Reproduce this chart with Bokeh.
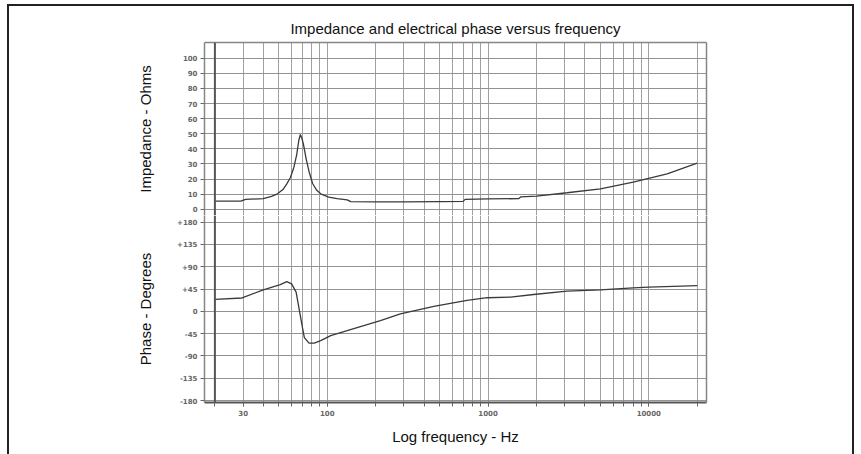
from bokeh.plotting import figure
from bokeh.layouts import column
from bokeh.models import Range1d, FixedTicker, Span, LinearAxis, LogAxis
from bokeh.embed import file_html
from bokeh.resources import INLINE

# ---- data ----
imp_freq = [20, 29, 31, 40, 45, 49, 53, 56, 59, 62, 64.5, 66.5, 68, 69.5, 71, 74, 77,
            81, 86, 91, 102, 115, 133, 140, 200, 300, 500, 700, 720, 1000, 1550, 1600,
            2000, 3100, 5000, 8000, 13000, 20000]
imp_ohms = [5.3, 5.3, 6.5, 7.0, 8.5, 10.2, 13.0, 16.8, 21.0, 27.8, 36.0, 45.5, 49.5, 47.0,
            43.3, 33.0, 25.0, 17.0, 12.5, 10.2, 8.0, 7.0, 6.2, 5.0, 4.8, 4.8, 5.0, 5.2, 6.5,
            6.8, 7.0, 8.2, 8.6, 10.9, 13.5, 17.9, 23.4, 30.5]

phase_freq = [20, 29.5, 40, 51, 56, 60, 64, 66.5, 70, 72, 77, 83, 91, 105, 133, 214, 285,
              460, 740, 990, 1380, 1920, 3100, 5000, 8000, 10000, 20000]
phase_deg = [24, 27, 43.5, 54, 60, 55.5, 38.7, 8.4, -32, -53, -64, -64, -59, -49, -39,
             -18.5, -5, 10, 22, 27.5, 28.6, 34, 40.7, 43.5, 47.5, 48.8, 52]

x_tick_values = [30, 100, 1000, 10000]
x_tick_labels = ["30", "100", "1000", "10000"]
grid_freqs = ([20, 30, 40, 50, 60, 70, 80, 90] +
              [m * 100 for m in range(1, 10)] +
              [m * 1000 for m in range(1, 10)] +
              [10000, 20000])

imp_ticks = [0, 10, 20, 30, 40, 50, 60, 70, 80, 90, 100]
phase_ticks = [-180, -135, -90, -45, 0, 45, 90, 135, 180]
phase_tick_labels = ["-180", "-135", "-90", "-45", "0", "+45", "+90", "+135", "+180"]

X_RANGE = (17.23, 22848)
IMP_RANGE = (-4.17, 110.4)
PHASE_RANGE = (-184.0, 193.5)

FONT = "Liberation Sans"
TICK_FONT = "DejaVu Sans"
TEXT_SIZE = "15px"
FRAME_COLOR = "#858585"
GRID_X = "#a0a0a0"
GRID_Y = "#939393"
CURVE = "#3a3a3a"

xr = Range1d(*X_RANGE)


def style_y_axis(ax, ticks, labels, label_text, label_standoff):
    ax.ticker = FixedTicker(ticks=ticks, minor_ticks=[])
    ax.major_label_overrides = {t: l for t, l in zip(ticks, labels)}
    ax.major_label_text_font = TICK_FONT
    ax.major_label_text_font_size = "7px"
    ax.major_label_text_font_style = "bold"
    ax.major_label_text_color = "#666666"
    ax.major_tick_out = 4
    ax.major_tick_in = 0
    ax.minor_tick_line_color = None
    ax.major_tick_line_color = "#666666"
    ax.axis_line_color = FRAME_COLOR
    ax.axis_line_width = 1.5
    ax.major_label_standoff = 3
    ax.axis_label = label_text
    ax.axis_label_text_font = FONT
    ax.axis_label_text_font_size = TEXT_SIZE
    ax.axis_label_text_font_style = "normal"
    ax.axis_label_text_color = "#111111"
    ax.axis_label_standoff = label_standoff


def edge_axis(cls):
    ax = cls(ticker=FixedTicker(ticks=[], minor_ticks=[]))
    ax.major_tick_out = 0
    ax.major_tick_in = 0
    ax.minor_tick_out = 0
    ax.minor_tick_in = 0
    ax.major_label_standoff = 0
    ax.major_label_text_font_size = "0px"
    ax.axis_line_color = FRAME_COLOR
    ax.axis_line_width = 1.5
    return ax


def base_fig(height, y_range, top, bottom, with_x_axis):
    f = figure(width=843, height=height, x_axis_type="log", x_range=xr, y_range=y_range,
               x_axis_location="below" if with_x_axis else None,
               output_backend="svg", toolbar_location=None,
               min_border_left=195, min_border_right=146,
               min_border_top=top, min_border_bottom=bottom)
    f.outline_line_color = None
    f.background_fill_color = "white"
    f.border_fill_color = "white"
    g = f.xgrid[0]
    g.ticker = FixedTicker(ticks=grid_freqs)
    g.grid_line_color = GRID_X
    g.grid_line_width = 1
    f.ygrid.grid_line_color = GRID_Y
    f.ygrid.grid_line_width = 1
    f.add_layout(edge_axis(LinearAxis), "right")
    f.add_layout(Span(location=grid_freqs[0], dimension="height",
                      line_color="#555555", line_width=2))
    return f


# ---- top panel: impedance ----
p_top = base_fig(209, Range1d(*IMP_RANGE), 36, 0, False)
p_top.title.text = "Impedance and electrical phase versus frequency"
p_top.title.align = "center"
p_top.title.text_font = FONT
p_top.title.text_font_size = TEXT_SIZE
p_top.title.text_font_style = "normal"
p_top.title.text_color = "#111111"
p_top.title.standoff = 12
p_top.add_layout(edge_axis(LogAxis), "above")
style_y_axis(p_top.yaxis[0], imp_ticks, [str(t) for t in imp_ticks],
             "Impedance - Ohms", 26)
p_top.ygrid.ticker = FixedTicker(ticks=imp_ticks)
p_top.line(imp_freq, imp_ohms, line_color=CURVE, line_width=1.3)

# ---- bottom panel: phase ----
p_bot = base_fig(239, Range1d(*PHASE_RANGE), 0, 52, True)
style_y_axis(p_bot.yaxis[0], phase_ticks, phase_tick_labels, "Phase - Degrees", 20)
p_bot.ygrid.ticker = FixedTicker(ticks=phase_ticks)
p_bot.line(phase_freq, phase_deg, line_color=CURVE, line_width=1.3)

xax = p_bot.xaxis[0]
xax.ticker = FixedTicker(ticks=x_tick_values, minor_ticks=grid_freqs)
xax.major_label_overrides = {v: l for v, l in zip(x_tick_values, x_tick_labels)}
xax.major_label_text_font = TICK_FONT
xax.major_label_text_font_size = "7px"
xax.major_label_text_font_style = "bold"
xax.major_label_text_color = "#666666"
xax.major_tick_out = 4
xax.major_tick_in = 0
xax.minor_tick_out = 4
xax.minor_tick_in = 0
xax.major_tick_line_color = "#666666"
xax.minor_tick_line_color = "#666666"
xax.axis_line_color = "#555555"
xax.axis_line_width = 2
xax.major_label_standoff = 3
xax.axis_label = "Log frequency - Hz"
xax.axis_label_text_font = FONT
xax.axis_label_text_font_size = TEXT_SIZE
xax.axis_label_text_font_style = "normal"
xax.axis_label_text_color = "#111111"
xax.axis_label_standoff = 9

page = column(p_top, p_bot, spacing=0, margin=(4, 0, 0, 7),
              styles={"border-left": "2px solid #222222",
                      "border-right": "2px solid #222222",
                      "border-top": "2px solid #222222"})

open("out.html", "w").write(file_html(page, INLINE))
